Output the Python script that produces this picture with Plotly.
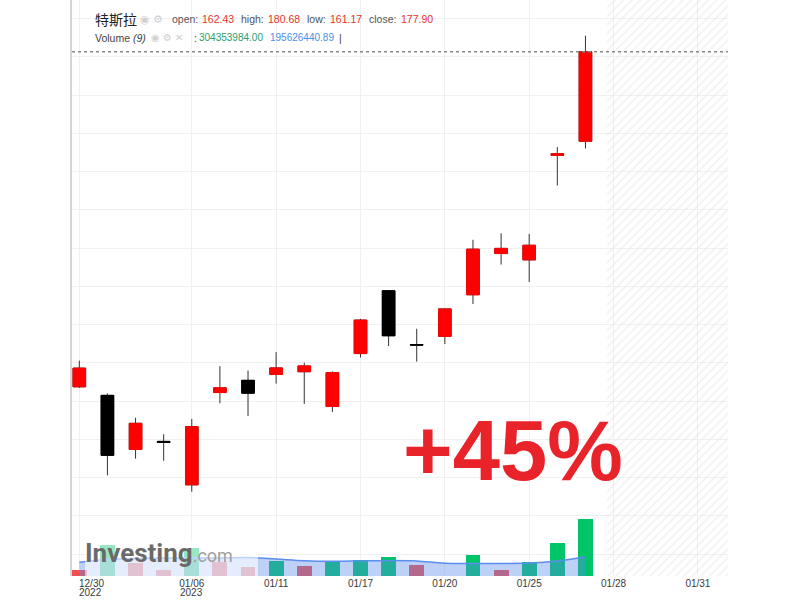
import plotly.graph_objects as go

# Tesla (特斯拉) daily candles, 2022-12-30 .. 2023-01-27
DATES = ["12/30", "01/03", "01/04", "01/05", "01/06", "01/09", "01/10", "01/11",
         "01/12", "01/13", "01/17", "01/18", "01/19", "01/20", "01/23", "01/24",
         "01/25", "01/26", "01/27"]
OPEN = [119.95, 118.47, 109.11, 110.51, 103.00, 118.96, 121.07, 122.09, 122.56, 116.55,
        125.70, 136.56, 127.26, 128.68, 135.87, 143.00, 141.91, 159.97, 162.43]
HIGH = [124.48, 118.80, 114.59, 111.75, 114.39, 123.52, 122.76, 125.95, 124.13, 122.63,
        131.70, 136.68, 129.99, 133.51, 145.38, 146.50, 146.41, 161.42, 180.68]
LOW = [119.75, 104.64, 107.52, 107.16, 101.81, 117.11, 114.92, 120.51, 117.00, 115.60,
       125.02, 127.01, 124.31, 127.35, 134.27, 141.10, 138.07, 154.76, 161.17]
CLOSE = [123.18, 108.10, 113.64, 110.34, 113.06, 119.77, 118.85, 123.22, 123.56, 122.40,
         131.49, 128.78, 127.17, 133.42, 143.75, 143.89, 144.43, 160.27, 177.90]
VOLUME = [159500000, 231400000, 179500000, 159800000, 222400000, 181000000, 166400000,
          185200000, 170100000, 181500000, 187800000, 197200000, 172100000, 138900000,
          202400000, 157800000, 180600000, 234900000, 304353984]
VOLUME_MA9 = [180600000, 189200000, 191500000, 192900000, 192900000, 192900000,
              194400000, 190100000, 185200000, 183500000, 184400000, 185800000,
              184400000, 177800000, 177200000, 177200000, 178600000, 184400000,
              195626440.89]

TICK_POS = [0, 4, 7, 10, 13, 16, 19, 22]
TICK_TEXT = ["12/30", "01/06", "01/11", "01/17", "01/20", "01/25", "01/28", "01/31"]
YEAR_LABELS = [(0, "2022"), (4, "2023")]
CHANGE_TEXT = "+45%"

RED = "#ff0000"
BLACK = "#000000"
WICK = "#333333"
VOL_UP = "#00c468"
VOL_DOWN = "#f05050"

# page geometry (px)
L, R, T, B = 72, 72, 0, 24
PW, PH = 800 - L - R, 600 - T - B


def px_x(p):
    return (p - L) / PW


def px_y(p):
    return 1 - (p - T) / PH


x = list(range(len(DATES)))
body_hi = [max(o, c) for o, c in zip(OPEN, CLOSE)]
body_lo = [min(o, c) for o, c in zip(OPEN, CLOSE)]
vol_colors = [VOL_DOWN] + [VOL_UP if v > p else VOL_DOWN for p, v in zip(VOLUME, VOLUME[1:])]

fig = go.Figure()

# wicks (dark) + bodies
fig.add_trace(go.Candlestick(
    x=x, open=OPEN, high=HIGH, low=LOW, close=CLOSE,
    increasing=dict(line=dict(color=WICK, width=1), fillcolor=RED),
    decreasing=dict(line=dict(color=WICK, width=1), fillcolor=BLACK),
    hoverinfo="skip",
))
# body outlines in body colour so red bodies have no dark border
fig.add_trace(go.Candlestick(
    x=x, open=OPEN, high=body_hi, low=body_lo, close=CLOSE,
    increasing=dict(line=dict(color=RED, width=1), fillcolor=RED),
    decreasing=dict(line=dict(color=BLACK, width=1), fillcolor=BLACK),
    hoverinfo="skip",
))

# volume overlay
fig.add_trace(go.Bar(
    x=x, y=VOLUME, marker=dict(color=vol_colors, line=dict(width=0)),
    width=0.53, yaxis="y2", hoverinfo="skip",
))
fig.add_trace(go.Scatter(
    x=x, y=VOLUME_MA9, yaxis="y2", mode="lines",
    line=dict(color="#5a8ded", width=1.5, shape="spline"),
    fill="tozeroy", fillcolor="rgba(90,140,235,0.4)", hoverinfo="skip",
))

# hatched "future" zone
FUTURE_START, X_END = 18.75, 23.07
fig.add_trace(go.Bar(
    x=[(FUTURE_START + X_END) / 2], y=[1], base=[0], width=[X_END - FUTURE_START],
    yaxis="y3", hoverinfo="skip",
    marker=dict(color="rgba(0,0,0,0)", line=dict(width=0),
                pattern=dict(shape="/", fgcolor="#e3e3e3", bgcolor="rgba(0,0,0,0)",
                             size=6, solidity=0.25)),
))

GRID = "#f0f0f0"
fig.update_layout(
    width=800, height=600,
    margin=dict(l=L, r=R, t=T, b=B),
    paper_bgcolor="white", plot_bgcolor="white",
    showlegend=False,
    boxgap=0.36,
    bargap=0,
    font=dict(family="Liberation Sans, Arial, sans-serif", color="#333"),
    xaxis=dict(
        range=[-0.26, X_END], tickmode="array", tickvals=TICK_POS,
        ticktext=[""] + TICK_TEXT[1:], showgrid=True, gridcolor=GRID,
        zeroline=False, showline=False, ticks="", rangeslider=dict(visible=False),
        tickfont=dict(size=10, color="#3a3a3a"),
    ),
    yaxis=dict(
        range=[87.23, 186.85], tick0=104.24, dtick=6.615, showticklabels=False,
        showgrid=True, gridcolor=GRID, zeroline=False,
        showline=True, linecolor="#d4d4d4", linewidth=1.5,
    ),
    yaxis2=dict(range=[141.5e6, 1787.2e6], overlaying="y", visible=False),
    yaxis3=dict(range=[0, 1], overlaying="y", visible=False),
)

# last close dotted line
fig.add_shape(type="line", xref="paper", x0=0, x1=1, yref="y", y0=CLOSE[-1], y1=CLOSE[-1],
              line=dict(color="#888", width=1.5, dash="dot"), layer="above")

# watermark backdrop
fig.add_shape(type="rect", xref="paper", yref="paper",
              x0=px_x(85), x1=px_x(258), y0=0, y1=px_y(540),
              fillcolor="rgba(255,255,255,0.6)", line=dict(width=0), layer="above")
fig.add_annotation(xref="paper", yref="paper", x=px_x(83), y=px_y(553),
                   xanchor="left", yanchor="middle", showarrow=False,
                   text="<b>Investing</b><span style='color:#a0a0a0;font-size:18px'>.com</span>",
                   font=dict(family="Roboto, sans-serif", size=26, color="#6a6a6a"))

# x labels: first date left aligned, year lines below
fig.add_annotation(xref="x", yref="paper", x=0, y=px_y(583), xanchor="left", yanchor="middle",
                   xshift=-2, showarrow=False, text=TICK_TEXT[0],
                   font=dict(size=10, color="#3a3a3a"))
for pos, yr in YEAR_LABELS:
    shift = 11 if pos == 0 else 0
    fig.add_annotation(xref="x", yref="paper", x=pos, y=px_y(592), xanchor="center",
                       yanchor="middle", xshift=shift, showarrow=False, text=yr,
                       font=dict(size=10, color="#3a3a3a"))

# big change label
fig.add_annotation(xref="paper", yref="paper", x=px_x(513), y=px_y(450.5),
                   xanchor="center", yanchor="middle", showarrow=False,
                   text=f"<b>{CHANGE_TEXT}</b>",
                   font=dict(family="Liberation Sans, Arial, sans-serif", size=85,
                             color="#e8232a"))


def label(px, py, text, color="#555", size=10.5, family="Liberation Sans, Arial, sans-serif"):
    fig.add_annotation(xref="paper", yref="paper", x=px_x(px), y=px_y(py),
                       xanchor="left", yanchor="middle", showarrow=False, text=text,
                       font=dict(family=family, size=size, color=color))


# legend header line 1
VAL = "#e5332a"
label(93, 19, "特斯拉", color="#222", size=14, family="Noto Sans CJK SC, sans-serif")
label(138, 19, "◉ ⚙", color="#d0d0d0", size=11, family="DejaVu Sans")
label(170, 19, "open:")
label(200, 19, f"{OPEN[-1]:.2f}", color=VAL)
label(239, 19, "high:")
label(266, 19, f"{HIGH[-1]:.2f}", color=VAL)
label(305, 19, "low:")
label(328, 19, f"{LOW[-1]:.2f}", color=VAL)
label(367, 19, "close:")
label(399, 19, f"{CLOSE[-1]:.2f}", color=VAL)
# legend header line 2
label(93, 38, "Volume <i>(9)</i>", color="#444")
label(149, 38, "◉ ⚙ ✕", color="#d0d0d0", size=10, family="DejaVu Sans")
label(192, 38, ":", color="#444")
label(197, 38, f"{VOLUME[-1]:.2f}", color="#2aa06a", size=10)
label(268, 38, f"{VOLUME_MA9[-1]:.2f}", color="#4a8fe7", size=10)
label(337, 38, "|", color="#444")

# the page body has a default 8px margin; drop it so the figure sits at 0,0
fig.write_html("out.html", config={"displayModeBar": False},
               post_script="document.body.style.margin='0';")
